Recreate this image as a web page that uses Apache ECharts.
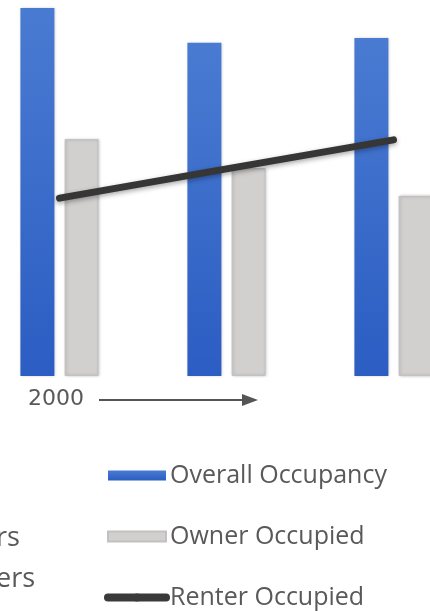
<!DOCTYPE html>
<html>
<head>
<meta charset="utf-8">
<script src="https://cdn.jsdelivr.net/npm/echarts@6/dist/echarts.min.js"></script>
<style>
  html, body { margin: 0; padding: 0; background: #fff; }
  #chart { width: 430px; height: 611px; }
</style>
</head>
<body>
<div id="chart"></div>
<script>
// data (percent of plot height)
var years = ['2000', '2005', '2010'];
var overall = [97.9, 88.6, 89.9];
var owner = [63.0, 55.3, 47.9];
var renter = [47.3, 55.1, 62.8];
var legendNames = ['Overall Occupancy', 'Owner Occupied', 'Renter Occupied'];

var myChart = echarts.init(document.getElementById('chart'));
var txt = '#595959';
var font = '"Open Sans", sans-serif';

var blueFill = new echarts.graphic.LinearGradient(0, 0, 0, 1, [
    { offset: 0, color: '#4a7bd2' },
    { offset: 1, color: '#2b5dc3' }
]);

option = {
    animation: false,
    grid: {
        left: -24,
        right: -47,
        top: 0,
        bottom: 235,
        outerBoundsMode: 'none'
    },
    legend: {
        orient: 'vertical',
        left: 104,
        top: 463,
        height: 200,
        padding: 0,
        itemWidth: 58,
        itemHeight: 10,
        itemGap: 36,
        textStyle: { color: txt, fontSize: 25, fontFamily: font, padding: [0, 0, 0, -1] },
        data: [
            { name: legendNames[0], icon: 'rect' },
            { name: legendNames[1], icon: 'rect' },
            { name: legendNames[2], itemStyle: { color: '#3a3a3a' }, lineStyle: { width: 8, cap: 'round', color: '#3a3a3a' } }
        ]
    },
    xAxis: {
        type: 'category',
        data: years,
        axisLine: { show: false },
        axisTick: { show: false },
        axisLabel: { show: false }
    },
    yAxis: {
        type: 'value',
        min: 0,
        max: 100,
        show: false,
        splitLine: { show: false }
    },
    series: [
        {
            name: legendNames[0],
            type: 'bar',
            data: overall,
            barWidth: 34,
            barGap: '30%',
            itemStyle: {
                color: blueFill,
                shadowColor: 'rgba(0,0,0,0.25)',
                shadowBlur: 3,
                shadowOffsetX: 1
            }
        },
        {
            name: legendNames[1],
            type: 'bar',
            data: owner,
            barWidth: 34,
            itemStyle: {
                color: '#d2cfcf',
                borderColor: '#c2c0c0',
                borderWidth: 1,
                shadowColor: 'rgba(0,0,0,0.2)',
                shadowBlur: 3,
                shadowOffsetX: 1
            }
        },
        {
            name: legendNames[2],
            type: 'line',
            data: renter,
            symbol: 'none',
            z: 5,
            itemStyle: { color: '#363636' },
            lineStyle: {
                color: '#363636',
                width: 7,
                cap: 'round',
                shadowColor: 'rgba(0,0,0,0.35)',
                shadowBlur: 5,
                shadowOffsetY: 2
            }
        }
    ],
    graphic: [
        {
            type: 'text', left: 28, top: 388,
            style: { text: '2000', fill: txt, fontSize: 22, fontFamily: '"DejaVu Sans", sans-serif' }
        },
        {
            type: 'line',
            shape: { x1: 99, y1: 400, x2: 246, y2: 400 },
            style: { stroke: '#555', lineWidth: 2 }
        },
        {
            type: 'polygon',
            shape: { points: [[242, 394], [258, 400], [242, 406]] },
            style: { fill: '#555' }
        },
        {
            type: 'text', left: -4, top: 525,
            style: { text: 'rs', fill: txt, fontSize: 27, fontFamily: font }
        },
        {
            type: 'text', left: -4, top: 566,
            style: { text: 'ers', fill: txt, fontSize: 27, fontFamily: font }
        }
    ]
};

myChart.setOption(option);
window.addEventListener('resize', function () {
    myChart.resize();
});
</script>
</body>
</html>
